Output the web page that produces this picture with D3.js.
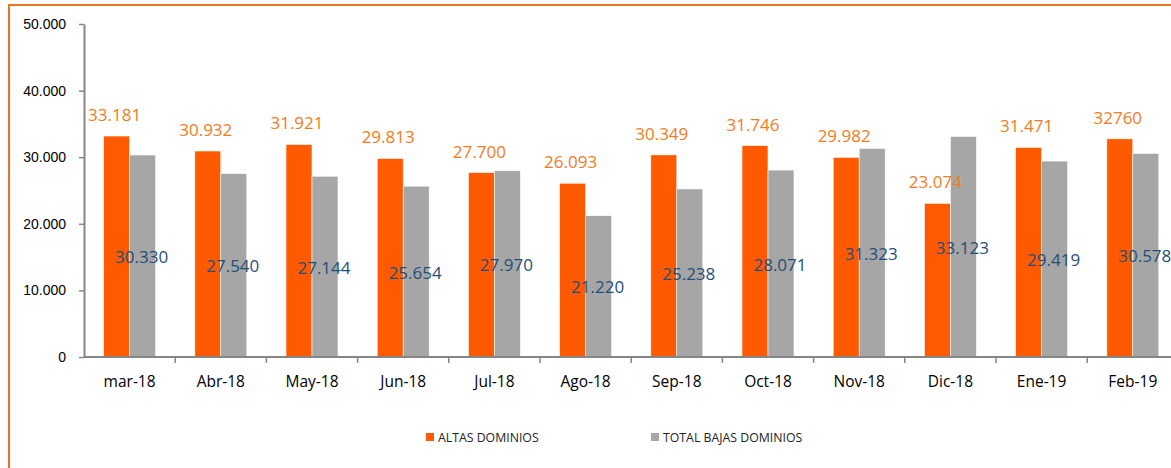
<!DOCTYPE html>
<html>
<head>
<meta charset="utf-8">
<script src="https://cdn.jsdelivr.net/npm/d3@7"></script>
<style>
  body { margin: 0; background: #fff; }
  svg { display: block; font-family: "Open Sans", "Noto Sans", sans-serif; }
</style>
</head>
<body>
<main></main>
<script>
const months = ["mar-18", "Abr-18", "May-18", "Jun-18", "Jul-18", "Ago-18", "Sep-18", "Oct-18", "Nov-18", "Dic-18", "Ene-19", "Feb-19"];
const altas = [33181, 30932, 31921, 29813, 27700, 26093, 30349, 31746, 29982, 23074, 31471, 32760];
const bajas = [30330, 27540, 27144, 25654, 27970, 21220, 25238, 28071, 31323, 33123, 29419, 30578];
const altasLabels = ["33.181", "30.932", "31.921", "29.813", "27.700", "26.093", "30.349", "31.746", "29.982", "23.074", "31.471", "32760"];
const bajasLabels = ["30.330", "27.540", "27.144", "25.654", "27.970", "21.220", "25.238", "28.071", "31.323", "33.123", "29.419", "30.578"];
const yTicks = [0, 10000, 20000, 30000, 40000, 50000];
const yTickLabels = ["0", "10.000", "20.000", "30.000", "40.000", "50.000"];
const seriesNames = ["ALTAS DOMINIOS", "TOTAL BAJAS DOMINIOS"];

const width = 1171;
const height = 468;
const margin = {top: 24, bottom: 111, left: 84};
const step = 91.2;
const orange = "#ff5a00";
const gray = "#a6a6a6";
const axisColor = "#868686";

const svg = d3.select("main")
    .append("svg")
        .attr("width", width)
        .attr("height", height);

// chart frame
svg.append("path")
    .attr("d", `M9,${height} V5 H${width}`)
    .attr("fill", "none")
    .attr("stroke", "#e87722")
    .attr("stroke-width", 2);

const x = d3.scaleBand()
    .domain(months)
    .range([margin.left, margin.left + step * months.length])
    .padding(0);
const x1 = d3.scaleBand()
    .domain(["altas", "bajas"])
    .range([0, x.bandwidth()])
    .paddingInner(0)
    .paddingOuter(0.754);
const y = d3.scaleLinear()
    .domain([0, 50000])
    .range([height - margin.bottom, margin.top]);

// y axis
const axisY = svg.append("g")
    .attr("transform", `translate(${margin.left},0)`)
    .call(d3.axisLeft(y).tickValues(yTicks).tickFormat((d, i) => yTickLabels[i]).tickSize(5).tickSizeOuter(0).tickPadding(13));
axisY.select(".domain").attr("stroke", axisColor).attr("stroke-width", 2);
axisY.selectAll(".tick line").attr("stroke", axisColor).attr("stroke-width", 1.5);
axisY.selectAll(".tick text").attr("font-size", 14).attr("fill", "#000");

// bars
const groups = svg.append("g")
    .selectAll("g")
    .data(months)
    .join("g")
        .attr("transform", d => `translate(${x(d)},0)`);

groups.append("rect")
    .attr("x", x1("altas"))
    .attr("y", (d, i) => y(altas[i]))
    .attr("width", x1.bandwidth())
    .attr("height", (d, i) => y(0) - y(altas[i]))
    .attr("fill", orange)
    .attr("stroke", "#fff")
    .attr("stroke-width", 0.6);

groups.append("rect")
    .attr("x", x1("bajas"))
    .attr("y", (d, i) => y(bajas[i]))
    .attr("width", x1.bandwidth())
    .attr("height", (d, i) => y(0) - y(bajas[i]))
    .attr("fill", gray)
    .attr("stroke", "#fff")
    .attr("stroke-width", 0.6);

// x axis
const axisX = svg.append("g")
    .attr("transform", `translate(0,${y(0)})`);
axisX.append("line")
    .attr("x1", margin.left)
    .attr("x2", width)
    .attr("stroke", axisColor)
    .attr("stroke-width", 2);
axisX.selectAll(".tk")
    .data(months)
    .join("line")
        .attr("class", "tk")
        .attr("x1", d => x(d) + x.bandwidth())
        .attr("x2", d => x(d) + x.bandwidth())
        .attr("y1", 0)
        .attr("y2", 6)
        .attr("stroke", axisColor)
        .attr("stroke-width", 1.5);
axisX.selectAll("text")
    .data(months)
    .join("text")
        .attr("x", d => x(d) + x.bandwidth() / 2)
        .attr("y", 30)
        .attr("text-anchor", "middle")
        .attr("font-size", 15.5)
        .attr("fill", "#000")
        .text(d => d);

// value labels
groups.append("text")
    .attr("x", x1("altas") + x1.bandwidth() / 2 - 2)
    .attr("y", (d, i) => y(altas[i]) - 15)
    .attr("text-anchor", "middle")
    .attr("font-size", 17)
    .attr("fill", "#f47b20")
    .text((d, i) => altasLabels[i]);

groups.append("text")
    .attr("x", x1("bajas") + x1.bandwidth() / 2 - 1)
    .attr("y", (d, i) => (y(bajas[i]) + y(0)) / 2 + 7)
    .attr("text-anchor", "middle")
    .attr("font-size", 17)
    .attr("fill", "#1f4e79")
    .text((d, i) => bajasLabels[i]);

// legend
const legendX = [426, 651];
const legend = svg.append("g")
    .selectAll("g")
    .data(seriesNames)
    .join("g")
        .attr("transform", (d, i) => `translate(${legendX[i]},433)`);
legend.append("rect")
    .attr("width", 8)
    .attr("height", 8)
    .attr("fill", (d, i) => [orange, gray][i]);
legend.append("text")
    .attr("x", 12)
    .attr("y", 8.5)
    .attr("font-size", 12.3)
    .attr("fill", "#222")
    .text(d => d);
</script>
</body>
</html>
